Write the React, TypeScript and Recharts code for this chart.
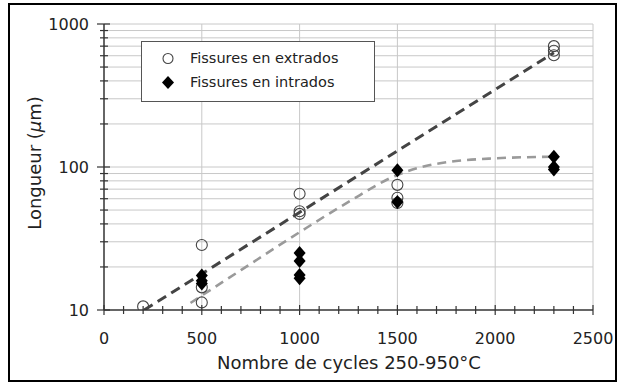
import React from 'react';
import { ComposedChart, Scatter, Line, XAxis, YAxis, ReferenceLine, Label } from 'recharts';

// cycles 250-950°C vs crack length (µm)
const extradosCycles = [200, 500, 500, 500, 1000, 1000, 1000, 1500, 1500, 1500, 2300, 2300, 2300];
const extradosLength = [10.6, 28.5, 14.4, 11.3, 65, 49, 47, 75, 61, 56, 700, 650, 605];

const intradosCycles = [500, 500, 500, 1000, 1000, 1000, 1000, 1500, 1500, 2300, 2300, 2300];
const intradosLength = [17.4, 16, 15.3, 25, 22, 17.6, 16.7, 95, 57, 118, 100, 96];

// trend lines
const trendExtCycles = [205, 2300];
const trendExtLength = [10, 630];
const trendIntCycles = [442, 700, 1000, 1250, 1500, 1650, 1800, 2000, 2300];
const trendIntLength = [11.2, 19, 35, 57, 88, 102, 110, 115, 118];

const xTicks = [0, 100, 200, 300, 400, 500, 600, 700, 800, 900, 1000, 1100, 1200, 1300, 1400, 1500, 1600, 1700, 1800, 1900, 2000, 2100, 2200, 2300, 2400, 2500];
const xLabels = [0, 500, 1000, 1500, 2000, 2500];
const yTicks = [10, 20, 30, 40, 50, 60, 70, 80, 90, 100, 200, 300, 400, 500, 600, 700, 800, 900, 1000];
const yLabels = [10, 100, 1000];

const FONT = '"DejaVu Sans", sans-serif';

const zip = (xs: number[], ys: number[]) => xs.map((x, i) => ({ x, y: ys[i] }));

const extrados = zip(extradosCycles, extradosLength);
const intrados = zip(intradosCycles, intradosLength);
const trendExt = zip(trendExtCycles, trendExtLength);
const trendInt = zip(trendIntCycles, trendIntLength);

const XTick = (props: any) => {
    const { x, y, payload } = props;
    const major = xLabels.includes(payload.value);
    return (
        <g>
            <line x1={x} x2={x} y1={y - (major ? 5 : 4)} y2={y + (major ? 5 : 4)} stroke="#333" strokeWidth={1.2} />
            {major && (
                <text x={x} y={y + 34} textAnchor="middle" fontFamily={FONT} fontSize={16} fill="#222">
                    {payload.value}
                </text>
            )}
        </g>
    );
};

const YTick = (props: any) => {
    const { x, y, payload } = props;
    const major = yLabels.includes(payload.value);
    return (
        <g>
            <line x1={x - (major ? 7 : 4)} x2={x + (major ? 6 : 4)} y1={y} y2={y} stroke="#333" strokeWidth={1.2} />
            {major && (
                <text x={x - 15} y={y + 6} textAnchor="end" fontFamily={FONT} fontSize={16} fill="#222">
                    {payload.value}
                </text>
            )}
        </g>
    );
};

const Circle = (props: any) => (
    <circle cx={props.cx} cy={props.cy} r={5.5} fill="none" stroke="#444" strokeWidth={1.1} />
);

const Diamond = (props: any) => {
    const { cx, cy } = props;
    return <path d={`M${cx},${cy - 7} L${cx + 6},${cy} L${cx},${cy + 7} L${cx - 6},${cy} Z`} fill="#000" />;
};

const App = () => {
    return (
        <div style={{ position: 'absolute', left: 0, top: 0, width: 621, height: 383, background: '#fff' }}>
            <div style={{ position: 'absolute', left: 8, top: 3, width: 605, height: 375, border: '2px solid #000' }} />
            <ComposedChart
                width={621}
                height={383}
                margin={{ top: 24, right: 28, bottom: 43, left: 0 }}
                style={{ position: 'absolute', left: 0, top: 0 }}
            >
                <XAxis
                    dataKey="x"
                    type="number"
                    domain={[0, 2500]}
                    ticks={xTicks}
                    interval={0}
                    height={30}
                    tickSize={0}
                    tickMargin={0}
                    tick={<XTick />}
                    stroke="#333"
                    strokeWidth={1.5}
                >
                    <Label
                        content={() => (
                            <text x={349} y={369} textAnchor="middle" fontFamily={FONT} fontSize={18} fill="#222">
                                Nombre de cycles 250-950°C
                            </text>
                        )}
                    />
                </XAxis>
                <YAxis
                    dataKey="y"
                    type="number"
                    scale="log"
                    domain={[10, 1000]}
                    allowDataOverflow
                    ticks={yTicks}
                    interval={0}
                    width={104}
                    tickSize={0}
                    tickMargin={0}
                    tick={<YTick />}
                    stroke="#333"
                    strokeWidth={1.5}
                >
                    <Label
                        content={() => (
                            <text
                                x={34}
                                y={163}
                                transform="rotate(-90 34 163)"
                                textAnchor="middle"
                                dominantBaseline="central"
                                fontFamily={FONT}
                                fontSize={18}
                                fill="#222"
                            >
                                Longueur (<tspan fontStyle="italic">μ</tspan>m)
                            </text>
                        )}
                    />
                </YAxis>

                {xLabels.slice(1).map((v) => (
                    <ReferenceLine key={`vx-${v}`} x={v} stroke="#c8c8c8" strokeWidth={1} />
                ))}
                {yTicks.slice(1).map((v) => (
                    <ReferenceLine key={`hy-${v}`} y={v} stroke="#c8c8c8" strokeWidth={1} />
                ))}

                <Line
                    data={trendExt}
                    dataKey="y"
                    type="linear"
                    stroke="#444"
                    strokeWidth={3}
                    strokeDasharray="10 6"
                    dot={false}
                    activeDot={false}
                    isAnimationActive={false}
                />
                <Line
                    data={trendInt}
                    dataKey="y"
                    type="monotone"
                    stroke="#9a9a9a"
                    strokeWidth={2.6}
                    strokeDasharray="9 6"
                    dot={false}
                    activeDot={false}
                    isAnimationActive={false}
                />
                <Scatter data={extrados} dataKey="y" shape={<Circle />} isAnimationActive={false} />
                <Scatter data={intrados} dataKey="y" shape={<Diamond />} isAnimationActive={false} />
            </ComposedChart>

            <div
                style={{
                    position: 'absolute',
                    left: 141,
                    top: 41,
                    width: 232,
                    height: 59,
                    border: '1px solid #555',
                    background: '#fff',
                    fontFamily: FONT,
                    fontSize: 14.5,
                    color: '#222',
                }}
            >
                <svg width={20} height={60} style={{ position: 'absolute', left: 16, top: 0 }}>
                    <circle cx={10} cy={16.5} r={5} fill="none" stroke="#444" strokeWidth={1.1} />
                    <path d="M10,34 L16,40.5 L10,47 L4,40.5 Z" fill="#000" />
                </svg>
                <div style={{ position: 'absolute', left: 48, top: 6, lineHeight: '20px' }}>Fissures en extrados</div>
                <div style={{ position: 'absolute', left: 48, top: 30, lineHeight: '20px' }}>Fissures en intrados</div>
            </div>
        </div>
    );
};

export default App;
